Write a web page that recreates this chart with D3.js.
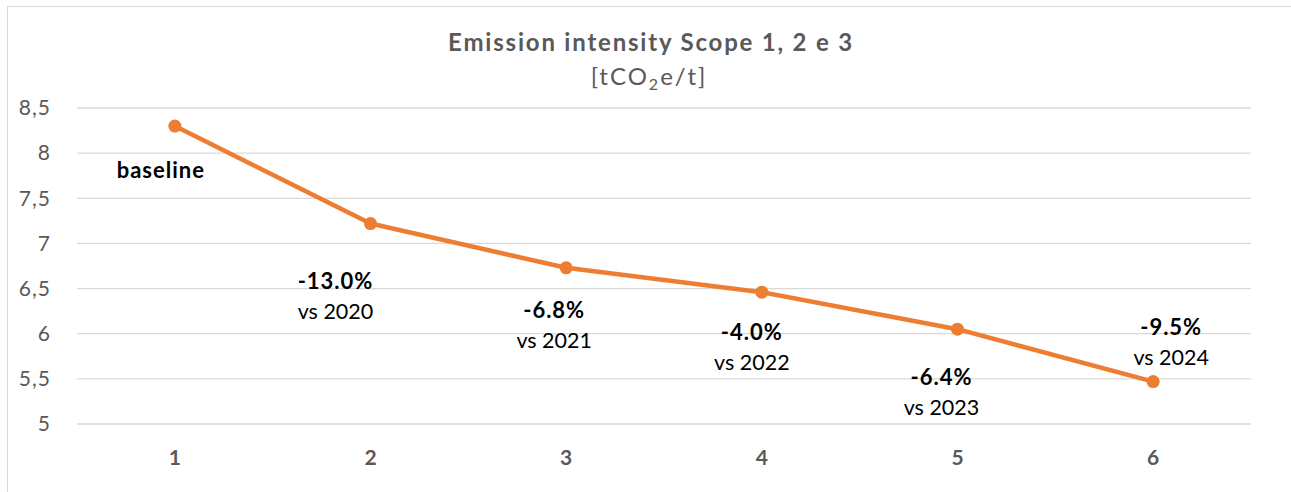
<!DOCTYPE html>
<html><head><meta charset="utf-8">
<script src="https://cdn.jsdelivr.net/npm/d3@7"></script>
<style>body{margin:0;background:#fff;} svg{display:block;font-family:"Lato","DejaVu Sans",sans-serif;}</style>
</head><body>
<script>
const categories = ["1","2","3","4","5","6"];
const values = [8.30, 7.22, 6.73, 6.46, 6.05, 5.47];
const changeLabels = ["baseline","-13.0%","-6.8%","-4.0%","-6.4%","-9.5%"];
const compareLabels = ["","vs 2020","vs 2021","vs 2022","vs 2023","vs 2024"];
const yTicks = [5,5.5,6,6.5,7,7.5,8,8.5];

const W=1291,H=492;
const m={l:77,r:40,t:108,b:68};
const svg=d3.select("body").append("svg").attr("width",W).attr("height",H);

svg.append("rect").attr("x",7.5).attr("y",6.5).attr("width",W+10).attr("height",H+10)
  .attr("fill","#fff").attr("stroke","#d9d9d9").attr("stroke-width",1);

const x=d3.scaleBand().domain(categories).range([m.l,W-m.r]);
const y=d3.scaleLinear().domain([5,8.5]).range([H-m.b,m.t]);

const grid=svg.append("g");
grid.selectAll("line").data(yTicks).join("line")
  .attr("x1",m.l).attr("x2",W-m.r).attr("y1",d=>y(d)).attr("y2",d=>y(d))
  .attr("stroke","#d9d9d9").attr("stroke-width",1.3);

const fmt=d=>String(d).replace(".",",");
const yAxis=svg.append("g").attr("transform",`translate(${m.l-23},0)`)
  .call(d3.axisLeft(y).tickValues(yTicks).tickFormat(fmt).tickSize(0));
yAxis.select(".domain").remove();
yAxis.selectAll("text").attr("fill","#595959").attr("font-size",21).attr("letter-spacing","1px").attr("font-family","Lato, sans-serif");

const xAxis=svg.append("g").attr("transform",`translate(0,${H-m.b+23})`)
  .call(d3.axisBottom(x).tickSize(0));
xAxis.select(".domain").remove();
xAxis.selectAll("text").attr("fill","#595959").attr("font-size",21).attr("font-weight","bold").attr("dy","0.71em").attr("font-family","Lato, sans-serif");

const cx=(d,i)=>x(categories[i])+x.bandwidth()/2;
const line=d3.line().x((d,i)=>cx(d,i)).y(d=>y(d));
svg.append("path").datum(values).attr("d",line).attr("fill","none")
  .attr("stroke","#ED7D31").attr("stroke-width",4.5).attr("stroke-linejoin","round");
svg.selectAll("circle.pt").data(values).join("circle").attr("class","pt")
  .attr("cx",cx).attr("cy",d=>y(d)).attr("r",6.5).attr("fill","#ED7D31");

// label offsets (layout)
const offs=[[-14,52],[-35,65],[-12,50],[-10,48],[-16,56],[18,-47]];
const lab=svg.append("g");
values.forEach((v,i)=>{
  const px=cx(v,i)+offs[i][0], py=y(v)+offs[i][1];
  lab.append("text").attr("x",px).attr("y",py).attr("text-anchor","middle")
    .attr("font-size",22).attr("font-weight","bold").attr("letter-spacing","1px").attr("fill","#000").text(changeLabels[i]);
  if(compareLabels[i]) lab.append("text").attr("x",px).attr("y",py+30).attr("text-anchor","middle")
    .attr("font-size",21.5).attr("fill","#000").text(compareLabels[i]);
});

svg.append("text").attr("x",651).attr("y",51).attr("text-anchor","middle")
  .attr("font-size",24).attr("font-weight","bold").attr("letter-spacing","1.8px").attr("fill","#595959").text("Emission intensity Scope 1, 2 e 3");
const sub=svg.append("text").attr("x",649).attr("y",85).attr("text-anchor","middle")
  .attr("font-size",24).attr("letter-spacing","2px").attr("fill","#595959");
sub.append("tspan").text("[tCO");
sub.append("tspan").attr("font-size",16).attr("dy",5).text("2");
sub.append("tspan").attr("dy",-5).text("e/t]");
</script>
</body></html>
